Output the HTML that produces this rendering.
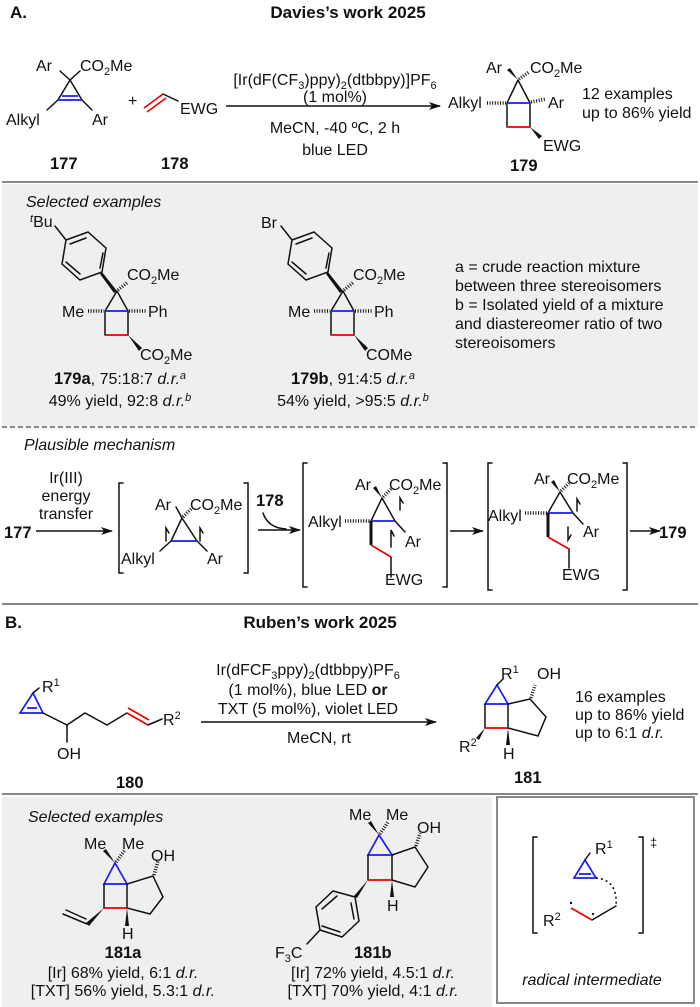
<!DOCTYPE html>
<html><head><meta charset="utf-8"><style>
html,body{margin:0;padding:0;background:#fff;}
svg{display:block;}
text{font-family:"Liberation Sans",Arial,sans-serif;font-size:16px;fill:#111;}
.b{font-weight:bold;font-size:16.5px;}
.t{font-weight:bold;font-size:17px;}
.i{font-style:italic;}
.k{stroke:#111;stroke-width:1.5;fill:none;stroke-linecap:round;}
.bl{stroke:#1a1aff;stroke-width:1.7;fill:none;}
.rd{stroke:#e00;stroke-width:1.7;fill:none;}
.h{stroke:#111;stroke-width:3.5;stroke-dasharray:1 1.6;fill:none;}
.s{font-size:11px;}
</style></head><body>
<svg width="700" height="1007" viewBox="0 0 700 1007" xmlns="http://www.w3.org/2000/svg">
<defs>
<marker id="ah" markerWidth="12" markerHeight="10" refX="11" refY="5" orient="auto" markerUnits="userSpaceOnUse"><path d="M0,1 L12,5 L0,9 L3,5 Z" fill="#111"/></marker>
</defs>
<rect x="2" y="184" width="696" height="242" fill="#efefef"/>
<line x1="2" y1="182" x2="698" y2="182" stroke="#888" stroke-width="2"/>
<line x1="2" y1="427" x2="698" y2="427" stroke="#888" stroke-width="2" stroke-dasharray="5 3"/>
<line x1="2" y1="604" x2="698" y2="604" stroke="#888" stroke-width="2"/>
<line x1="2" y1="794" x2="698" y2="794" stroke="#888" stroke-width="2"/>
<rect x="2" y="797" width="490" height="210" fill="#efefef"/>
<rect x="497" y="797" width="197" height="206" fill="#fff" stroke="#888" stroke-width="2"/>

<text x="10" y="18" class="t">A.</text>
<text x="348" y="18" class="t" text-anchor="middle">Davies’s work 2025</text>

<!-- 177 -->
<path class="k" d="M70,80 L58,100 M70,80 L82,100 M70,80 L60,71 M70,80 L80,71 M58,100 L47,110 M82,100 L92,110"/>
<path class="bl" d="M58,100 L82,100 M62,96 L78,96"/>
<text x="36" y="71">Ar</text>
<text x="80" y="71">CO<tspan dy="4" class="s">2</tspan><tspan dy="-4">Me</tspan></text>
<text x="6" y="125">Alkyl</text>
<text x="92" y="125">Ar</text>
<text x="50" y="169" class="b">177</text>
<text x="128" y="106">+</text>
<path class="rd" d="M144,108 L163,94 M147,112 L166,98"/>
<path class="k" d="M163,94 L178,101"/>
<text x="180" y="114">EWG</text>
<text x="161" y="169" class="b">178</text>
<line x1="226" y1="106" x2="440" y2="106" stroke="#111" stroke-width="1.5" marker-end="url(#ah)"/>
<text x="335" y="85" text-anchor="middle">[Ir(dF(CF<tspan dy="4" class="s">3</tspan><tspan dy="-4">)ppy)</tspan><tspan dy="4" class="s">2</tspan><tspan dy="-4">(dtbbpy)]PF</tspan><tspan dy="4" class="s">6</tspan></text>
<text x="335" y="102" text-anchor="middle">(1 mol%)</text>
<text x="335" y="133" text-anchor="middle">MeCN, -40 ºC, 2 h</text>
<text x="335" y="155" text-anchor="middle">blue LED</text>

<!-- 179 -->
<path class="k" d="M518,80 L507,103 M518,80 L530,103 M507,103 L507,127 M530,103 L530,127"/>
<path class="bl" d="M507,103 L530,103"/>
<path class="rd" d="M507,127 L530,127"/>
<polygon points="518,80 507,70 510,68" fill="#111"/>
<line class="h" x1="519" y1="79" x2="529" y2="72"/>
<line class="h" x1="487" y1="103" x2="506" y2="103"/>
<line class="h" x1="531" y1="102" x2="546" y2="99"/>
<polygon points="530,127 539,139 542,136" fill="#111"/>
<text x="486" y="73">Ar</text>
<text x="530" y="73">CO<tspan dy="4" class="s">2</tspan><tspan dy="-4">Me</tspan></text>
<text x="448" y="108">Alkyl</text>
<text x="548" y="108">Ar</text>
<text x="543" y="151">EWG</text>
<text x="510" y="171" class="b">179</text>
<text x="582" y="99">12 examples</text>
<text x="582" y="118">up to 86% yield</text>

<text x="26" y="207" class="i">Selected examples</text>
<!-- 179a -->
<g>
<text x="30" y="227"><tspan dy="-5" class="s i">t</tspan><tspan dy="5">Bu</tspan></text>
<path class="k" d="M55,226 L66,240 M66,240 L88,232 L106,248 L102,272 L80,280 L62,264 Z M70,244 L86,238 M103,253 L100,268 M66,262 L80,274"/>
<polygon points="102,272 117,291 114,293 100,274" fill="#111"/>
<path class="k" d="M117,291 L105,311 M117,291 L128,311 M105,311 L105,335 M128,311 L128,335"/>
<path class="bl" d="M105,311 L128,311"/>
<path class="rd" d="M105,335 L128,335"/>
<line class="h" x1="118" y1="290" x2="128" y2="282"/>
<line class="h" x1="88" y1="311" x2="104" y2="311"/>
<line class="h" x1="129" y1="311" x2="147" y2="311"/>
<polygon points="128,335 139,351 142,348" fill="#111"/>
<text x="127" y="280">CO<tspan dy="4" class="s">2</tspan><tspan dy="-4">Me</tspan></text>
<text x="62" y="317">Me</text>
<text x="148" y="317">Ph</text>
<text x="140" y="360">CO<tspan dy="4" class="s">2</tspan><tspan dy="-4">Me</tspan></text>
<text x="120" y="384" text-anchor="middle"><tspan class="b">179a</tspan>, 75:18:7 <tspan class="i">d.r.</tspan><tspan dy="-5" class="s i">a</tspan></text>
<text x="120" y="406" text-anchor="middle">49% yield, 92:8 <tspan class="i">d.r.</tspan><tspan dy="-5" class="s i">b</tspan></text>
</g>
<!-- 179b -->
<g transform="translate(226,0)">
<path class="k" d="M55,226 L66,240 M66,240 L88,232 L106,248 L102,272 L80,280 L62,264 Z M70,244 L86,238 M103,253 L100,268 M66,262 L80,274"/>
<polygon points="102,272 117,291 114,293 100,274" fill="#111"/>
<path class="k" d="M117,291 L105,311 M117,291 L128,311 M105,311 L105,335 M128,311 L128,335"/>
<path class="bl" d="M105,311 L128,311"/>
<path class="rd" d="M105,335 L128,335"/>
<line class="h" x1="118" y1="290" x2="128" y2="282"/>
<line class="h" x1="88" y1="311" x2="104" y2="311"/>
<line class="h" x1="129" y1="311" x2="147" y2="311"/>
<polygon points="128,335 139,351 142,348" fill="#111"/>
<text x="35" y="228">Br</text>
<text x="127" y="280">CO<tspan dy="4" class="s">2</tspan><tspan dy="-4">Me</tspan></text>
<text x="62" y="317">Me</text>
<text x="148" y="317">Ph</text>
<text x="140" y="360">COMe</text>
<text x="127" y="384" text-anchor="middle"><tspan class="b">179b</tspan>, 91:4:5 <tspan class="i">d.r.</tspan><tspan dy="-5" class="s i">a</tspan></text>
<text x="127" y="406" text-anchor="middle">54% yield, &gt;95:5 <tspan class="i">d.r.</tspan><tspan dy="-5" class="s i">b</tspan></text>
</g>
<text x="455" y="272">a = crude reaction mixture</text>
<text x="455" y="291">between three stereoisomers</text>
<text x="455" y="310">b = Isolated yield of a mixture</text>
<text x="455" y="329">and diastereomer ratio of two</text>
<text x="455" y="348">stereoisomers</text>

<!-- mechanism -->
<text x="24" y="450" class="i">Plausible mechanism</text>
<text x="66" y="483" text-anchor="middle">Ir(III)</text>
<text x="66" y="501" text-anchor="middle">energy</text>
<text x="66" y="519" text-anchor="middle">transfer</text>
<text x="4" y="538" class="b">177</text>
<line x1="36" y1="531" x2="112" y2="531" stroke="#111" stroke-width="1.5" marker-end="url(#ah)"/>
<path class="k" d="M123,483 L119,483 L119,573 L123,573 M244,483 L248,483 L248,573 L244,573"/>
<path class="k" d="M182,518 L171,541 M182,518 L197,541 M182,518 L176,507 M171,541 L160,551 M197,541 L207,551"/>
<line class="h" x1="183" y1="517" x2="192" y2="508"/>
<path class="bl" d="M171,541 L197,541"/>
<path class="k" d="M166,541 L166,528 L169,533 M200,541 L200,528 L203,533"/>
<text x="155" y="510">Ar</text>
<text x="190" y="510">CO<tspan dy="4" class="s">2</tspan><tspan dy="-4">Me</tspan></text>
<text x="121" y="564">Alkyl</text>
<text x="207" y="564">Ar</text>
<text x="256" y="506" class="b">178</text>
<path class="k" d="M263,513 Q268,528 286,529"/>
<line x1="258" y1="530" x2="300" y2="530" stroke="#111" stroke-width="1.5" marker-end="url(#ah)"/>
<path class="k" d="M307,463 L303,463 L303,587 L307,587 M443,463 L447,463 L447,587 L443,587"/>
<path class="k" d="M382,498 L371,521 M382,498 L395,521 M395,521 L405,532 M391,557 L391,577"/>
<polygon points="382,498 373,488 376,486" fill="#111"/>
<line class="h" x1="383" y1="497" x2="391" y2="489"/>
<line class="h" x1="345" y1="521" x2="370" y2="521"/>
<path class="bl" d="M371,521 L395,521"/>
<line x1="371" y1="521" x2="371" y2="545" stroke="#111" stroke-width="3"/>
<path class="rd" d="M371,545 L391,557"/>
<path class="k" d="M391,547 L391,530 L394,536 M400,510 L400,498 L403,503"/>
<text x="355" y="490">Ar</text>
<text x="389" y="490">CO<tspan dy="4" class="s">2</tspan><tspan dy="-4">Me</tspan></text>
<text x="308" y="527">Alkyl</text>
<text x="405" y="547">Ar</text>
<text x="385" y="585">EWG</text>
<line x1="450" y1="531" x2="483" y2="531" stroke="#111" stroke-width="1.5" marker-end="url(#ah)"/>
<path class="k" d="M492,463 L488,463 L488,590 L492,590 M623,463 L627,463 L627,590 L623,590"/>
<path class="k" d="M560,492 L548,513 M560,492 L573,513 M573,513 L583,524 M569,549 L569,568"/>
<polygon points="560,492 551,482 554,480" fill="#111"/>
<line class="h" x1="561" y1="491" x2="569" y2="483"/>
<line class="h" x1="525" y1="513" x2="547" y2="513"/>
<path class="bl" d="M548,513 L573,513"/>
<line x1="548" y1="513" x2="548" y2="537" stroke="#111" stroke-width="3"/>
<path class="rd" d="M548,537 L569,549"/>
<path class="k" d="M577,511 L577,499 L580,504 M568,527 L568,540 L571,535"/>
<text x="534" y="484">Ar</text>
<text x="567" y="484">CO<tspan dy="4" class="s">2</tspan><tspan dy="-4">Me</tspan></text>
<text x="488" y="521">Alkyl</text>
<text x="583" y="537">Ar</text>
<text x="562" y="580">EWG</text>
<line x1="630" y1="531" x2="660" y2="531" stroke="#111" stroke-width="1.5" marker-end="url(#ah)"/>
<text x="659" y="538" class="b">179</text>

<!-- Section B -->
<text x="5" y="628" class="t">B.</text>
<text x="320" y="628" class="t" text-anchor="middle">Ruben’s work 2025</text>
<path class="bl" d="M33,693 L20,713 L43,713 Z M27,708 L37,708"/>
<path class="k" d="M33,693 L39,688 M43,713 L67,725 L85,713 L107,725 L127,713 M67,725 L67,742 M148,725 L162,719"/>
<path class="rd" d="M127,713 L148,725 M128,708 L149,720"/>
<text x="42" y="692">R<tspan dy="-6" class="s">1</tspan></text>
<text x="163" y="725">R<tspan dy="-6" class="s">2</tspan></text>
<text x="57" y="759">OH</text>
<text x="116" y="788" class="b">180</text>
<line x1="201" y1="722" x2="436" y2="722" stroke="#111" stroke-width="1.5" marker-end="url(#ah)"/>
<text x="308" y="675" text-anchor="middle">Ir(dFCF<tspan dy="4" class="s">3</tspan><tspan dy="-4">ppy)</tspan><tspan dy="4" class="s">2</tspan><tspan dy="-4">(dtbbpy)PF</tspan><tspan dy="4" class="s">6</tspan></text>
<text x="308" y="695" text-anchor="middle">(1 mol%), blue LED <tspan font-weight="bold">or</tspan></text>
<text x="308" y="714" text-anchor="middle">TXT (5 mol%), violet LED</text>
<text x="319" y="743" text-anchor="middle">MeCN, rt</text>
<path class="bl" d="M497,685 L485,704 L508,704 Z"/>
<path class="k" d="M497,685 L503,679 M485,704 L485,728 M508,704 L508,728 M508,704 L530,699 L546,717 L538,736 L508,728"/>
<line class="h" x1="531" y1="698" x2="535" y2="685"/>
<path class="rd" d="M485,728 L508,728"/>
<polygon points="485,728 476,738 479,740" fill="#111"/>
<polygon points="508,728 506,745 510,745" fill="#111"/>
<text x="501" y="679">R<tspan dy="-6" class="s">1</tspan></text>
<text x="537" y="679">OH</text>
<text x="459" y="752">R<tspan dy="-6" class="s">2</tspan></text>
<text x="503" y="759">H</text>
<text x="514" y="783" class="b">181</text>
<text x="575" y="702">16 examples</text>
<text x="575" y="720">up to 86% yield</text>
<text x="575" y="738">up to 6:1 <tspan class="i">d.r.</tspan></text>

<text x="28" y="822" class="i">Selected examples</text>
<!-- 181a -->
<path class="bl" d="M115,863 L104,884 L127,884 Z"/>
<path class="k" d="M104,884 L104,908 M127,884 L127,908 M127,884 L153,876 L163,897 L150,914 L127,908"/>
<line class="h" x1="116" y1="862" x2="125" y2="850"/>
<polygon points="115,863 103,851 106,849" fill="#111"/>
<line class="h" x1="154" y1="875" x2="158" y2="861"/>
<path class="rd" d="M104,908 L127,908"/>
<polygon points="104,908 86,923 89,926" fill="#111"/>
<path class="k" d="M87,924 L63,914 M86,919 L66,910"/>
<polygon points="127,908 125,926 129,926" fill="#111"/>
<text x="84" y="849">Me</text>
<text x="122" y="849">Me</text>
<text x="151" y="861">OH</text>
<text x="122" y="939">H</text>
<text x="123" y="958" class="b" text-anchor="middle">181a</text>
<text x="123" y="978" text-anchor="middle">[Ir] 68% yield, 6:1 <tspan class="i">d.r.</tspan></text>
<text x="123" y="996" text-anchor="middle">[TXT] 56% yield, 5.3:1 <tspan class="i">d.r.</tspan></text>
<!-- 181b -->
<path class="bl" d="M379,835 L368,855 L392,855 Z"/>
<path class="k" d="M368,855 L368,880 M392,855 L392,880 M392,855 L415,847 L428,867 L415,887 L392,880"/>
<line class="h" x1="380" y1="834" x2="388" y2="822"/>
<polygon points="379,835 368,823 371,821" fill="#111"/>
<line class="h" x1="416" y1="846" x2="420" y2="833"/>
<path class="rd" d="M368,880 L392,880"/>
<polygon points="368,880 354,896 357,898" fill="#111"/>
<polygon points="392,880 390,897 394,897" fill="#111"/>
<path class="k" d="M355,897 L333,891 L316,907 L320,930 L342,937 L359,921 Z M337,896 L322,909 M322,926 L340,932 M354,919 L351,903 M320,930 L307,944"/>
<text x="349" y="820">Me</text>
<text x="386" y="820">Me</text>
<text x="417" y="833">OH</text>
<text x="387" y="911">H</text>
<text x="275" y="958">F<tspan dy="4" class="s">3</tspan><tspan dy="-4">C</tspan></text>
<text x="354" y="958" class="b">181b</text>
<text x="373" y="978" text-anchor="middle">[Ir] 72% yield, 4.5:1 <tspan class="i">d.r.</tspan></text>
<text x="373" y="996" text-anchor="middle">[TXT] 70% yield, 4:1 <tspan class="i">d.r.</tspan></text>
<!-- radical intermediate -->
<path class="k" d="M537,837 L533,837 L533,933 L537,933 M639,837 L643,837 L643,933 L639,933"/>
<text x="650" y="847" style="font-size:13px">‡</text>
<path class="bl" d="M585,860 L574,878 L596,878 Z M579,874 L591,874"/>
<path class="k" d="M585,860 L590,853"/>
<text x="595" y="854">R<tspan dy="-6" class="s">1</tspan></text>
<path d="M596,878 Q618,880 616,906" stroke="#111" stroke-width="1.6" stroke-dasharray="2 3" fill="none"/>
<path class="k" d="M616,906 L592,920"/>
<path class="rd" d="M592,920 L571,908"/>
<circle cx="571" cy="903" r="1.2" fill="#111"/>
<circle cx="593" cy="914" r="1.2" fill="#111"/>
<text x="543" y="926">R<tspan dy="-6" class="s">2</tspan></text>
<text x="592" y="985" class="i" text-anchor="middle">radical intermediate</text>
</svg>
</body></html>
